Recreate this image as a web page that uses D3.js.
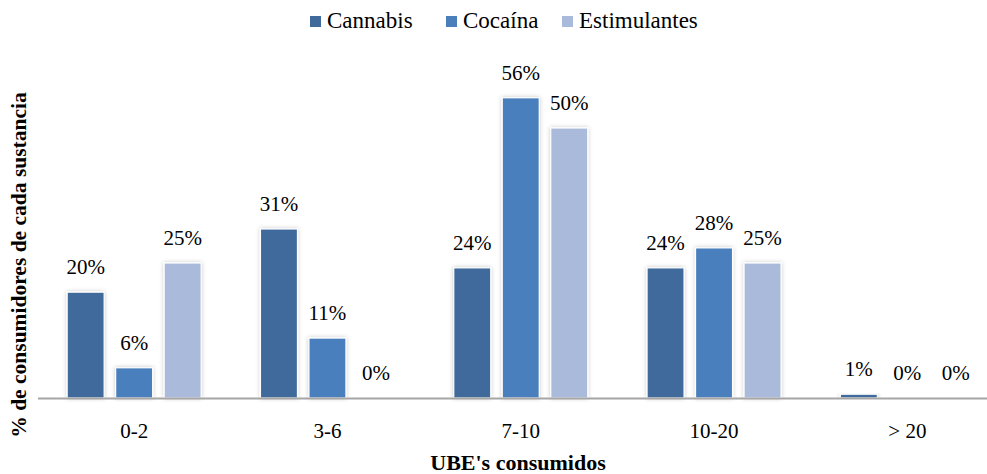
<!DOCTYPE html>
<html><head><meta charset="utf-8">
<script src="https://cdn.jsdelivr.net/npm/d3@7"></script>
<style>body{margin:0;background:#fff}svg{display:block}</style>
</head><body>
<script>
const categories = ["0-2","3-6","7-10","10-20","> 20"];
const seriesNames = ["Cannabis","Cocaína","Estimulantes"];
const cannabis = [19.6,31.3,24.1,24.1,0.7];
const cocaina = [5.6,11.1,55.6,27.8,0];
const estimulantes = [25,0,50,25,0];
const labelsCannabis = ["20%","31%","24%","24%","1%"];
const labelsCocaina = ["6%","11%","56%","28%","0%"];
const labelsEstimulantes = ["25%","0%","50%","25%","0%"];
const colors = ["#3F6A9B","#4A7FBC","#A9BADA"];

const series = [cannabis, cocaina, estimulantes];
const labels = [labelsCannabis, labelsCocaina, labelsEstimulantes];

const W = 987, H = 474;
const FONT = "'Liberation Serif', 'Times New Roman', serif";
const svg = d3.select("body").append("svg").attr("width", W).attr("height", H);

const defs = svg.append("defs");
const f = defs.append("filter").attr("id","sh").attr("x","-30%").attr("y","-10%").attr("width","160%").attr("height","120%");
f.append("feDropShadow").attr("dx",0).attr("dy",0).attr("stdDeviation",2).attr("flood-color","#000").attr("flood-opacity",0.22);

const x0 = d3.scaleBand().domain(categories).range([37.5, 1004]);
const x1 = d3.scaleBand().domain(seriesNames).range([0, 134]).paddingInner(0.237);
const y = d3.scaleLinear().domain([0, 60]).range([398, 74]);

const groups = svg.append("g").selectAll("g").data(categories).join("g")
  .attr("transform", d => `translate(${x0(d) + x0.bandwidth()/2 - 67},0)`);

seriesNames.forEach((s, si) => {
  groups.append("rect")
    .attr("x", x1(s))
    .attr("y", (d,i) => y(series[si][i]))
    .attr("width", x1.bandwidth())
    .attr("height", (d,i) => y(0) - y(series[si][i]))
    .attr("fill", colors[si])
    .attr("stroke", "#fff").attr("stroke-width", 1.2)
    .attr("filter", "url(#sh)")
    .style("display", (d,i) => series[si][i] > 0 ? null : "none");
  groups.append("text")
    .attr("x", x1(s) + x1.bandwidth()/2)
    .attr("y", (d,i) => y(series[si][i]) - 18)
    .attr("text-anchor","middle")
    .attr("font-family", FONT).attr("font-size", 21).attr("fill","#000")
    .text((d,i) => labels[si][i]);
});

// axis
const xAxis = d3.axisBottom(x0).tickSize(0).tickPadding(25);
const ax = svg.append("g").attr("transform", `translate(0,${y(0)})`).call(xAxis);
ax.select(".domain").attr("stroke","#a6a6a6").attr("stroke-width",2);
ax.selectAll("text").attr("font-family", FONT).attr("font-size", 21).attr("fill","#000");

// axis titles
svg.append("text").attr("x", 518).attr("y", 470).attr("text-anchor","middle")
  .attr("font-family", FONT).attr("font-size", 22).attr("font-weight","bold").text("UBE's consumidos");
svg.append("text").attr("transform","translate(26,265) rotate(-90)").attr("text-anchor","middle")
  .attr("font-family", FONT).attr("font-size", 21.5).attr("font-weight","bold").text("% de consumidores de cada sustancia");

// legend
const legX = [310, 446, 562];
const leg = svg.append("g");
seriesNames.forEach((s, i) => {
  leg.append("rect").attr("x", legX[i]).attr("y", 16).attr("width", 11).attr("height", 11).attr("fill", colors[i]);
  leg.append("text").attr("x", legX[i] + 17).attr("y", 28)
    .attr("font-family", FONT).attr("font-size", 23).attr("fill","#000").text(s);
});
</script>
</body></html>
